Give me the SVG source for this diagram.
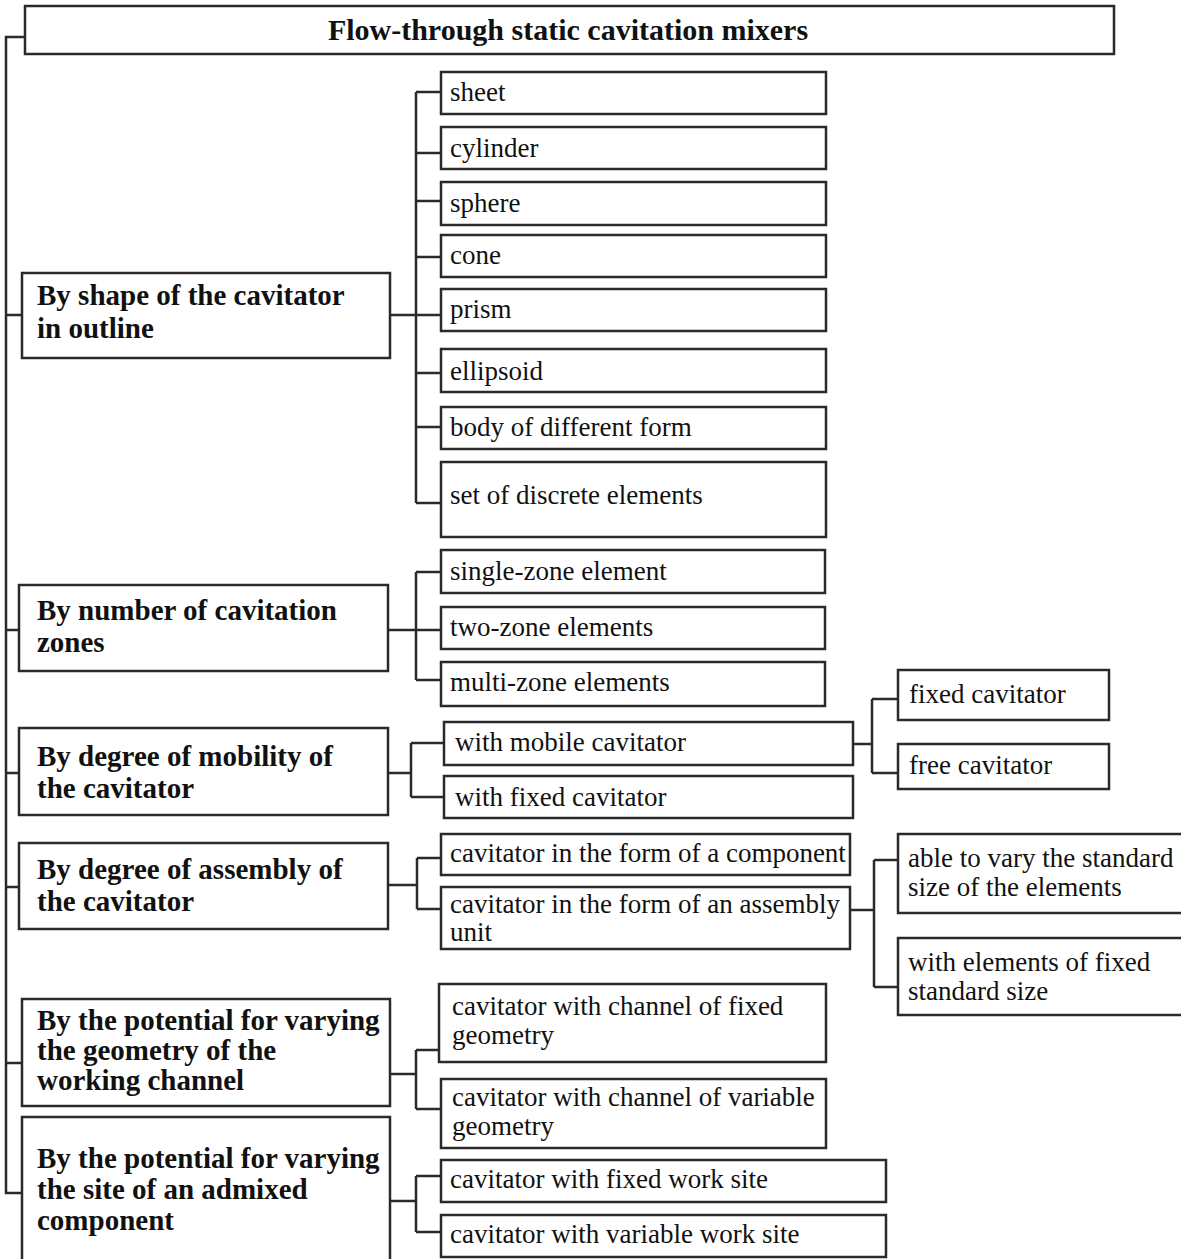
<svg xmlns="http://www.w3.org/2000/svg" width="1181" height="1259" viewBox="0 0 1181 1259">
<style>
rect{fill:#fff;stroke:#2a2a2a;stroke-width:2.5}
.c path{fill:none;stroke:#2a2a2a;stroke-width:2.5}
text{font-family:"Liberation Serif","Times New Roman",serif;fill:#111}
.t{font-size:30px;font-weight:bold}
.b{font-size:29px;font-weight:bold}
.s{font-size:27px}
</style>
<rect width="1181" height="1259" style="fill:#fff;stroke:none"/>
<g class="c" id="connectors">
<path d="M25 37H6V1193H22"/>
<path d="M6 315H22M6 630H19M6 773H19M6 887H19M6 1063H22"/>
<path d="M390 315H416M416 92V503M416 92H441M416 153H441M416 201H441M416 257H441M416 315H441M416 373H441M416 427H441M416 503H441"/>
<path d="M388 630H416M416 572V680M416 572H441M416 630H441M416 680H441"/>
<path d="M388 773H411M411 743V797M411 743H444M411 797H444"/>
<path d="M853 744H872M872 699V773M872 699H898M872 773H898"/>
<path d="M388 885H417M417 858V909M417 858H441M417 909H441"/>
<path d="M850 910H874M874 860V987M874 860H898M874 987H898"/>
<path d="M390 1074H416M416 1050V1109M416 1050H439M416 1109H441"/>
<path d="M390 1201H416M416 1176V1232M416 1176H441M416 1232H441"/>
</g>
<g id="root"><rect x="25" y="6" width="1089" height="48"/><text class="t" x="568" y="40" text-anchor="middle">Flow-through static cavitation mixers</text></g>
<g id="cat1"><rect x="22" y="273" width="368" height="85"/><text class="b" x="37" y="305">By shape of the cavitator</text><text class="b" x="37" y="338">in outline</text></g>
<g id="cat2"><rect x="19" y="585" width="369" height="86"/><text class="b" x="37" y="620">By number of cavitation</text><text class="b" x="37" y="652">zones</text></g>
<g id="cat3"><rect x="19" y="728" width="369" height="87"/><text class="b" x="37" y="766">By degree of mobility of</text><text class="b" x="37" y="798">the cavitator</text></g>
<g id="cat4"><rect x="19" y="843" width="369" height="86"/><text class="b" x="37" y="879">By degree of assembly of</text><text class="b" x="37" y="911">the cavitator</text></g>
<g id="cat5"><rect x="22" y="999" width="368" height="107"/><text class="b" x="37" y="1030">By the potential for varying</text><text class="b" x="37" y="1060">the geometry of the</text><text class="b" x="37" y="1090">working channel</text></g>
<g id="cat6"><rect x="22" y="1117" width="368" height="150"/><text class="b" x="37" y="1168">By the potential for varying</text><text class="b" x="37" y="1199">the site of an admixed</text><text class="b" x="37" y="1230">component</text></g>
<g id="sheet"><rect x="441" y="72" width="385" height="42"/><text class="s" x="450" y="101">sheet</text></g>
<g id="cylinder"><rect x="441" y="127" width="385" height="42"/><text class="s" x="450" y="157">cylinder</text></g>
<g id="sphere"><rect x="441" y="182" width="385" height="43"/><text class="s" x="450" y="212">sphere</text></g>
<g id="cone"><rect x="441" y="235" width="385" height="42"/><text class="s" x="450" y="264">cone</text></g>
<g id="prism"><rect x="441" y="289" width="385" height="42"/><text class="s" x="450" y="318">prism</text></g>
<g id="ellipsoid"><rect x="441" y="349" width="385" height="43"/><text class="s" x="450" y="380">ellipsoid</text></g>
<g id="body"><rect x="441" y="407" width="385" height="42"/><text class="s" x="450" y="436">body of different form</text></g>
<g id="discrete"><rect x="441" y="462" width="385" height="75"/><text class="s" x="450" y="504">set of discrete elements</text></g>
<g id="single"><rect x="441" y="550" width="384" height="43"/><text class="s" x="450" y="580">single-zone element</text></g>
<g id="two"><rect x="441" y="607" width="384" height="42"/><text class="s" x="450" y="636">two-zone elements</text></g>
<g id="multi"><rect x="441" y="662" width="384" height="44"/><text class="s" x="450" y="691">multi-zone elements</text></g>
<g id="mobile"><rect x="444" y="722" width="409" height="43"/><text class="s" x="455" y="751">with mobile cavitator</text></g>
<g id="fixedcav"><rect x="444" y="776" width="409" height="42"/><text class="s" x="455" y="806">with fixed cavitator</text></g>
<g id="fixedc"><rect x="898" y="670" width="211" height="50"/><text class="s" x="909" y="703">fixed cavitator</text></g>
<g id="freec"><rect x="898" y="744" width="211" height="45"/><text class="s" x="909" y="774">free cavitator</text></g>
<g id="component"><rect x="441" y="834" width="409" height="41"/><text class="s" x="450" y="862">cavitator in the form of a component</text></g>
<g id="assembly"><rect x="441" y="887" width="409" height="62"/><text class="s" x="450" y="913">cavitator in the form of an assembly</text><text class="s" x="450" y="941">unit</text></g>
<g id="vary"><rect x="898" y="834" width="290" height="79"/><text class="s" x="908" y="867">able to vary the standard</text><text class="s" x="908" y="896">size of the elements</text></g>
<g id="fixedsize"><rect x="898" y="938" width="290" height="77"/><text class="s" x="908" y="971">with elements of fixed</text><text class="s" x="908" y="1000">standard size</text></g>
<g id="fixedgeo"><rect x="439" y="984" width="387" height="78"/><text class="s" x="452" y="1015">cavitator with channel of fixed</text><text class="s" x="452" y="1044">geometry</text></g>
<g id="vargeo"><rect x="441" y="1079" width="385" height="69"/><text class="s" x="452" y="1106">cavitator with channel of variable</text><text class="s" x="452" y="1135">geometry</text></g>
<g id="fixedsite"><rect x="441" y="1160" width="445" height="42"/><text class="s" x="450" y="1188">cavitator with fixed work site</text></g>
<g id="varsite"><rect x="441" y="1215" width="445" height="42"/><text class="s" x="450" y="1243">cavitator with variable work site</text></g>
</svg>
